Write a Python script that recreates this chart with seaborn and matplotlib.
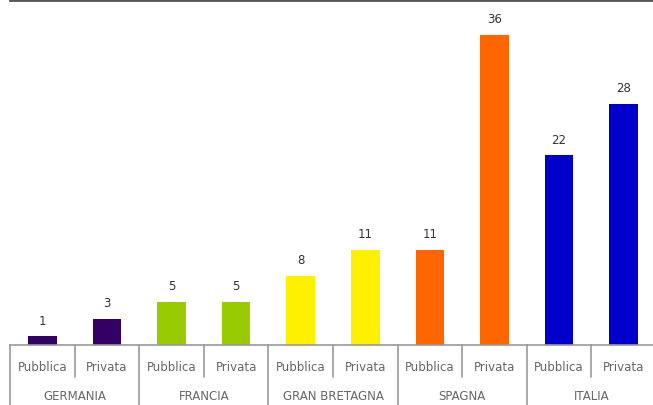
import matplotlib
matplotlib.use("Agg")
import matplotlib.pyplot as plt
import matplotlib.transforms as mtransforms
import pandas as pd
import seaborn as sns

countries = ["GERMANIA", "FRANCIA", "GRAN BRETAGNA", "SPAGNA", "ITALIA"]
sectors = ["Pubblica", "Privata"]
values = [1, 3, 5, 5, 8, 11, 11, 36, 22, 28]
country_colors = ["#330066", "#99CC00", "#FFF000", "#FF6600", "#0000CC"]

rows = []
for i, country in enumerate(countries):
    for j, sector in enumerate(sectors):
        rows.append({"key": f"{country} {sector}", "country": country,
                     "sector": sector, "value": values[i * 2 + j],
                     "color": country_colors[i]})
df = pd.DataFrame(rows)

sns.set_style("white")
plt.rcParams["font.family"] = ["DejaVu Sans"]

W, H = 653, 406
fig = plt.figure(figsize=(W / 100, H / 100), dpi=100)
ax = fig.add_axes([10 / W, 60 / H, 646 / W, 345 / H])

sns.barplot(data=df, x="key", y="value", hue="key",
            palette=dict(zip(df["key"], df["color"])), legend=False,
            width=0.44, saturation=1, linewidth=0, ax=ax)

for cont in ax.containers:
    ax.bar_label(cont, padding=7, fontsize=8.5, color="#333333")

ax.set_ylim(0, 40)
ax.set_xlim(-0.5, 9.5)
ax.set_xlabel("")
ax.set_ylabel("")
ax.set_xticks([])
ax.set_yticks([])
for side in ["left", "right"]:
    ax.spines[side].set_visible(False)
ax.spines["top"].set_color("#555555")
ax.spines["top"].set_linewidth(2)
ax.spines["bottom"].set_color("#999999")
ax.spines["bottom"].set_linewidth(1.2)

trans = mtransforms.blended_transform_factory(ax.transData, ax.transAxes)
px = 1 / 345
# separators under the axis
for k in range(11):
    x = k - 0.5
    depth = 62 * px if k % 2 == 0 else 32 * px
    ax.plot([x, x], [0, -depth], transform=trans, color="#999999",
            lw=1.2, clip_on=False)

for idx, row in df.iterrows():
    ax.text(idx, -22 * px, row["sector"], transform=trans, ha="center",
            va="center", fontsize=8.5, color="#666666")
for i, country in enumerate(countries):
    ax.text(i * 2 + 0.5, -51 * px, country, transform=trans, ha="center",
            va="center", fontsize=8.5, color="#666666")

fig.savefig("out.png", dpi=100)
